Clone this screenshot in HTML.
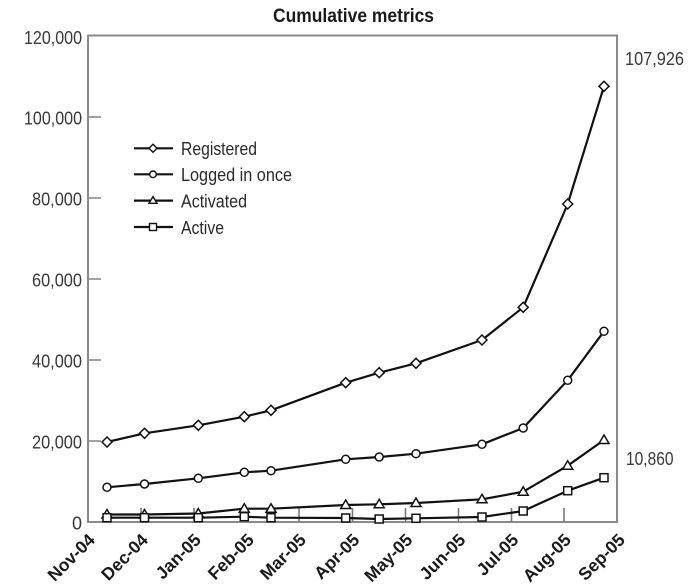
<!DOCTYPE html>
<html>
<head>
<meta charset="utf-8">
<style>
  html, body { margin:0; padding:0; background:#fff; }
  svg { display:block; }
  text { font-family: "Liberation Sans", sans-serif; }
</style>
</head>
<body>
<svg width="690" height="588" viewBox="0 0 690 588" xmlns="http://www.w3.org/2000/svg">
  <rect width="690" height="588" fill="#fff"/>

  <!-- Title -->
  <text x="273" y="22" font-size="19" font-weight="bold" fill="#1a1a1a" textLength="161" lengthAdjust="spacingAndGlyphs">Cumulative metrics</text>

  <!-- Plot frame -->
  <rect x="88" y="35.5" width="529" height="486.5" fill="none" stroke="#8a8a8a" stroke-width="2"/>

  <!-- Y ticks -->
  <g stroke="#8a8a8a" stroke-width="1.6">
    <line x1="88" y1="117" x2="101" y2="117"/>
    <line x1="88" y1="198" x2="101" y2="198"/>
    <line x1="88" y1="279" x2="101" y2="279"/>
    <line x1="88" y1="360" x2="101" y2="360"/>
    <line x1="88" y1="441" x2="101" y2="441"/>
  </g>
  <!-- X ticks -->
  <g stroke="#7a7a7a" stroke-width="1.6">
    <line x1="141" y1="522" x2="141" y2="508"/>
    <line x1="194" y1="522" x2="194" y2="508"/>
    <line x1="247" y1="522" x2="247" y2="508"/>
    <line x1="299" y1="522" x2="299" y2="508"/>
    <line x1="352.5" y1="522" x2="352.5" y2="508"/>
    <line x1="405.5" y1="522" x2="405.5" y2="508"/>
    <line x1="458.5" y1="522" x2="458.5" y2="508"/>
    <line x1="511.5" y1="522" x2="511.5" y2="508"/>
    <line x1="564" y1="522" x2="564" y2="508"/>
  </g>

  <!-- Y labels -->
  <g font-size="18" fill="#3a3a3a" text-anchor="end">
    <text x="82" y="44" textLength="58" lengthAdjust="spacingAndGlyphs">120,000</text>
    <text x="82" y="124.5" textLength="58" lengthAdjust="spacingAndGlyphs">100,000</text>
    <text x="82" y="205.5" textLength="50" lengthAdjust="spacingAndGlyphs">80,000</text>
    <text x="82" y="286.5" textLength="50" lengthAdjust="spacingAndGlyphs">60,000</text>
    <text x="82" y="367.5" textLength="50" lengthAdjust="spacingAndGlyphs">40,000</text>
    <text x="82" y="448.5" textLength="50" lengthAdjust="spacingAndGlyphs">20,000</text>
    <text x="82" y="529.5">0</text>
  </g>

  <!-- Right annotations -->
  <text x="625" y="65" font-size="18" fill="#3a3a3a" textLength="59" lengthAdjust="spacingAndGlyphs">107,926</text>
  <text x="626" y="465" font-size="18" fill="#3a3a3a" textLength="47.5" lengthAdjust="spacingAndGlyphs">10,860</text>

  <!-- X labels -->
  <g font-size="17.5" font-weight="bold" fill="#1a1a1a" text-anchor="end">
    <text transform="translate(96,541) rotate(-45)">Nov-04</text>
    <text transform="translate(149,541) rotate(-45)">Dec-04</text>
    <text transform="translate(202,541) rotate(-45)">Jan-05</text>
    <text transform="translate(255,541) rotate(-45)">Feb-05</text>
    <text transform="translate(307,541) rotate(-45)">Mar-05</text>
    <text transform="translate(360.5,541) rotate(-45)">Apr-05</text>
    <text transform="translate(413.5,541) rotate(-45)">May-05</text>
    <text transform="translate(466.5,541) rotate(-45)">Jun-05</text>
    <text transform="translate(519.5,541) rotate(-45)">Jul-05</text>
    <text transform="translate(572,541) rotate(-45)">Aug-05</text>
    <text transform="translate(626,541) rotate(-45)">Sep-05</text>
  </g>

  <!-- Series lines -->
  <g fill="none" stroke="#111" stroke-width="2.2" stroke-linejoin="round">
    <polyline points="107,442 144.5,433.3 198.3,425.3 244.3,416.7 271,410.3 345.7,382.7 379.2,372.7 416,363.3 482,340 523.2,307.3 567.7,204 604,86.3"/>
    <polyline points="107,487.3 144.5,484 198.3,478.3 244.3,472.3 271,470.7 345.7,459.3 379.2,457 416,453.7 482,444.3 523.2,428 567.7,380.3 604,331.3"/>
    <polyline points="107,514.5 144.5,514.5 198.3,513.5 244.3,508.7 271,508.7 345.7,505 379.2,504.3 416,503 482,499.3 523.2,491.7 567.7,465.7 604,440"/>
    <polyline points="107,517.7 144.5,517.7 198.3,517.7 244.3,516.7 271,517.7 345.7,518 379.2,519 416,518.3 482,517 523.2,511 567.7,490.7 604,477.7"/>
  </g>

  <!-- Markers -->
  <defs>
    <path id="dia" d="M0,-5 L5,0 L0,5 L-5,0 Z" fill="#fff" stroke="#111" stroke-width="1.5"/>
    <circle id="cir" r="4" fill="#fff" stroke="#111" stroke-width="1.5"/>
    <path id="tri" d="M0,-5 L5,3.5 L-5,3.5 Z" fill="#fff" stroke="#111" stroke-width="1.5"/>
    <rect id="sq" x="-4" y="-4" width="8" height="8" fill="#fff" stroke="#111" stroke-width="1.5"/>
  </defs>
  <g>
    <use href="#dia" x="107" y="442"/><use href="#dia" x="144.5" y="433.3"/><use href="#dia" x="198.3" y="425.3"/><use href="#dia" x="244.3" y="416.7"/><use href="#dia" x="271" y="410.3"/><use href="#dia" x="345.7" y="382.7"/><use href="#dia" x="379.2" y="372.7"/><use href="#dia" x="416" y="363.3"/><use href="#dia" x="482" y="340"/><use href="#dia" x="523.2" y="307.3"/><use href="#dia" x="567.7" y="204"/><use href="#dia" x="604" y="86.3"/>
  </g>
  <g>
    <use href="#cir" x="107" y="487.3"/><use href="#cir" x="144.5" y="484"/><use href="#cir" x="198.3" y="478.3"/><use href="#cir" x="244.3" y="472.3"/><use href="#cir" x="271" y="470.7"/><use href="#cir" x="345.7" y="459.3"/><use href="#cir" x="379.2" y="457"/><use href="#cir" x="416" y="453.7"/><use href="#cir" x="482" y="444.3"/><use href="#cir" x="523.2" y="428"/><use href="#cir" x="567.7" y="380.3"/><use href="#cir" x="604" y="331.3"/>
  </g>
  <g>
    <use href="#tri" x="107" y="514.5"/><use href="#tri" x="144.5" y="514.5"/><use href="#tri" x="198.3" y="513.5"/><use href="#tri" x="244.3" y="508.7"/><use href="#tri" x="271" y="508.7"/><use href="#tri" x="345.7" y="505"/><use href="#tri" x="379.2" y="504.3"/><use href="#tri" x="416" y="503"/><use href="#tri" x="482" y="499.3"/><use href="#tri" x="523.2" y="491.7"/><use href="#tri" x="567.7" y="465.7"/><use href="#tri" x="604" y="440"/>
  </g>
  <g>
    <use href="#sq" x="107" y="517.7"/><use href="#sq" x="144.5" y="517.7"/><use href="#sq" x="198.3" y="517.7"/><use href="#sq" x="244.3" y="516.7"/><use href="#sq" x="271" y="517.7"/><use href="#sq" x="345.7" y="518"/><use href="#sq" x="379.2" y="519"/><use href="#sq" x="416" y="518.3"/><use href="#sq" x="482" y="517"/><use href="#sq" x="523.2" y="511"/><use href="#sq" x="567.7" y="490.7"/><use href="#sq" x="604" y="477.7"/>
  </g>

  <!-- Legend -->
  <g stroke="#111" stroke-width="2.2">
    <line x1="134" y1="148.3" x2="173" y2="148.3"/>
    <line x1="134" y1="174.3" x2="173" y2="174.3"/>
    <line x1="134" y1="200.6" x2="173" y2="200.6"/>
    <line x1="134" y1="227" x2="173" y2="227"/>
  </g>
  <path d="M153,144.3 L157,148.3 L153,152.3 L149,148.3 Z" fill="#fff" stroke="#111" stroke-width="1.4"/>
  <circle cx="153" cy="174.3" r="3.3" fill="#fff" stroke="#111" stroke-width="1.4"/>
  <path d="M153,196.6 L157,203.3 L149,203.3 Z" fill="#fff" stroke="#111" stroke-width="1.4"/>
  <rect x="149.5" y="223.5" width="7" height="7" fill="#fff" stroke="#111" stroke-width="1.4"/>
  <g font-size="18" fill="#2a2a2a">
    <text x="181" y="155" textLength="76" lengthAdjust="spacingAndGlyphs">Registered</text>
    <text x="181" y="181" textLength="111" lengthAdjust="spacingAndGlyphs">Logged in once</text>
    <text x="181" y="207.5" textLength="66" lengthAdjust="spacingAndGlyphs">Activated</text>
    <text x="181" y="234" textLength="43" lengthAdjust="spacingAndGlyphs">Active</text>
  </g>
</svg>
</body>
</html>
